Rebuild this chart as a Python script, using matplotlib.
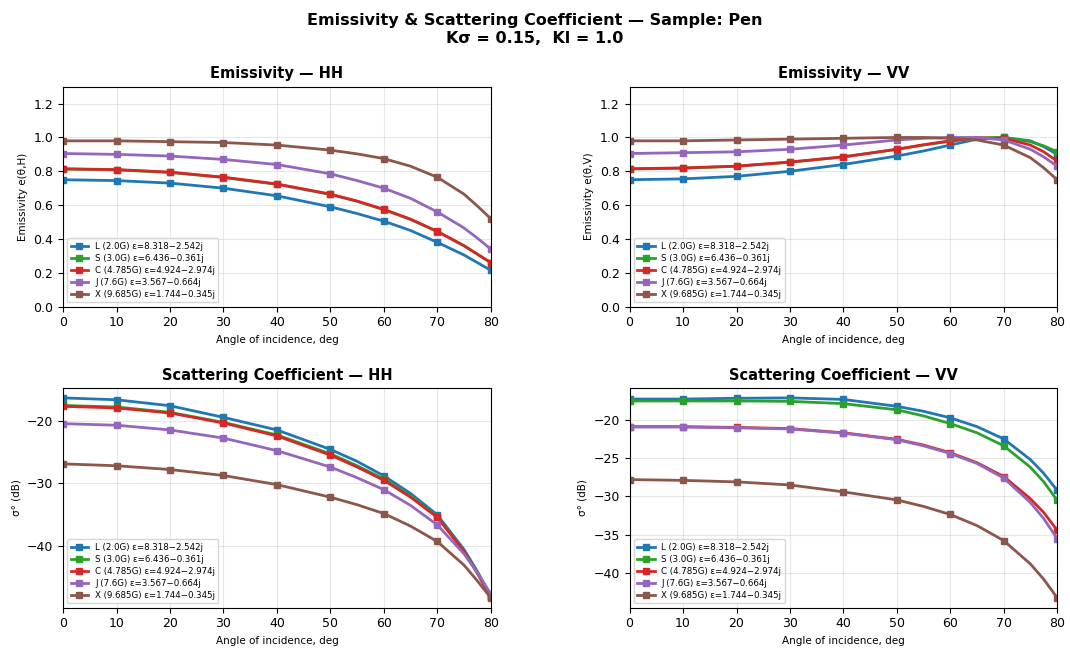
import matplotlib
matplotlib.use("Agg")
import matplotlib.pyplot as plt
from matplotlib.ticker import MultipleLocator

angles = [0, 10, 20, 30, 40, 50, 55, 60, 65, 70, 75, 77.5, 80]
marker_idx = [0, 1, 2, 3, 4, 5, 7, 9, 12]

bands = [
    "L (2.0G) ε=8.318−2.542j",
    "S (3.0G) ε=6.436−0.361j",
    "C (4.785G) ε=4.924−2.974j",
    "J (7.6G) ε=3.567−0.664j",
    "X (9.685G) ε=1.744−0.345j",
]
colors = ["tab:blue", "tab:green", "tab:red", "tab:purple", "tab:brown"]

emis_hh_L = [0.75, 0.745, 0.73, 0.70, 0.655, 0.59, 0.55, 0.505, 0.45, 0.38, 0.305, 0.26, 0.215]
emis_hh_S = [0.813, 0.808, 0.793, 0.763, 0.723, 0.663, 0.622, 0.573, 0.515, 0.443, 0.36, 0.31, 0.26]
emis_hh_C = [0.815, 0.81, 0.795, 0.765, 0.725, 0.665, 0.624, 0.575, 0.517, 0.445, 0.36, 0.31, 0.26]
emis_hh_J = [0.905, 0.90, 0.89, 0.87, 0.84, 0.785, 0.745, 0.70, 0.64, 0.56, 0.465, 0.405, 0.34]
emis_hh_X = [0.98, 0.98, 0.975, 0.97, 0.955, 0.925, 0.903, 0.875, 0.83, 0.765, 0.665, 0.595, 0.52]

emis_vv_L = [0.75, 0.755, 0.77, 0.80, 0.84, 0.89, 0.92, 0.955, 0.99, 1.0, 0.98, 0.945, 0.90]
emis_vv_S = [0.813, 0.818, 0.83, 0.853, 0.885, 0.93, 0.955, 0.978, 0.997, 1.0, 0.975, 0.95, 0.915]
emis_vv_C = [0.815, 0.82, 0.83, 0.855, 0.885, 0.93, 0.957, 0.98, 0.998, 0.995, 0.955, 0.915, 0.86]
emis_vv_J = [0.905, 0.91, 0.915, 0.93, 0.955, 0.985, 0.995, 1.0, 1.0, 0.985, 0.93, 0.885, 0.83]
emis_vv_X = [0.98, 0.98, 0.985, 0.99, 0.995, 1.0, 1.0, 0.995, 0.985, 0.955, 0.88, 0.82, 0.75]

sig_hh_L = [-16.4, -16.7, -17.65, -19.5, -21.5, -24.6, -26.5, -28.8, -31.6, -35.0, -40.5, -44.0, -47.9]
sig_hh_S = [-17.6, -17.85, -18.7, -20.3, -22.3, -25.3, -27.2, -29.3, -32.0, -35.3, -40.8, -44.2, -48.0]
sig_hh_C = [-17.75, -18.0, -18.8, -20.4, -22.45, -25.5, -27.4, -29.5, -32.2, -35.4, -40.8, -44.3, -48.1]
sig_hh_J = [-20.5, -20.75, -21.5, -22.8, -24.8, -27.4, -29.1, -31.0, -33.5, -36.6, -41.2, -44.2, -47.6]
sig_hh_X = [-26.9, -27.2, -27.8, -28.75, -30.2, -32.2, -33.4, -34.8, -36.8, -39.25, -43.0, -45.5, -48.2]

sig_vv_L = [-17.3, -17.3, -17.2, -17.15, -17.35, -18.25, -18.9, -19.75, -20.9, -22.5, -25.2, -27.0, -29.2]
sig_vv_S = [-17.55, -17.55, -17.55, -17.6, -17.9, -18.7, -19.5, -20.5, -21.7, -23.4, -26.2, -28.1, -30.5]
sig_vv_C = [-20.9, -20.9, -21.0, -21.15, -21.7, -22.55, -23.3, -24.3, -25.6, -27.4, -30.3, -32.1, -34.4]
sig_vv_J = [-20.95, -20.95, -21.05, -21.2, -21.75, -22.6, -23.4, -24.4, -25.7, -27.6, -30.8, -32.9, -35.5]
sig_vv_X = [-27.8, -27.9, -28.1, -28.5, -29.4, -30.45, -31.3, -32.35, -33.8, -35.75, -38.8, -40.8, -43.2]

panels = [
    ("Emissivity — HH", "Emissivity e(θ,H)",
     [emis_hh_L, emis_hh_S, emis_hh_C, emis_hh_J, emis_hh_X], (0, 1.3), 0.2),
    ("Emissivity — VV", "Emissivity e(θ,V)",
     [emis_vv_L, emis_vv_S, emis_vv_C, emis_vv_J, emis_vv_X], (0, 1.3), 0.2),
    ("Scattering Coefficient — HH", "σ° (dB)",
     [sig_hh_L, sig_hh_S, sig_hh_C, sig_hh_J, sig_hh_X], None, 10),
    ("Scattering Coefficient — VV", "σ° (dB)",
     [sig_vv_L, sig_vv_S, sig_vv_C, sig_vv_J, sig_vv_X], None, 5),
]

fig, axes = plt.subplots(2, 2, figsize=(10.7, 6.57), dpi=100)
fig.subplots_adjust(left=0.059, right=0.988, top=0.868, bottom=0.075,
                    wspace=0.325, hspace=0.37)

for ax, (title, ylabel, series, ylim, ystep) in zip(axes.flat, panels):
    for vals, lab, col in zip(series, bands, colors):
        ax.plot(angles, vals, color=col, lw=2, label=lab,
                marker="s", ms=4.5, markevery=marker_idx)
    ax.set_xlim(0, 80)
    if ylim is not None:
        ax.set_ylim(*ylim)
    ax.yaxis.set_major_locator(MultipleLocator(ystep))
    ax.set_title(title, fontsize=10.5, fontweight="bold")
    ax.set_xlabel("Angle of incidence, deg", fontsize=7.5)
    ax.set_ylabel(ylabel, fontsize=7.5)
    ax.tick_params(labelsize=9)
    ax.grid(True, alpha=0.3)
    ax.legend(loc="lower left", fontsize=6.2, framealpha=0.8,
              handlelength=2.0, labelspacing=0.35)

fig.suptitle("Emissivity & Scattering Coefficient — Sample: Pen\nKσ = 0.15,  Kl = 1.0",
             fontsize=11.5, fontweight="bold", y=0.98)

fig.savefig("out.png", dpi=100)
